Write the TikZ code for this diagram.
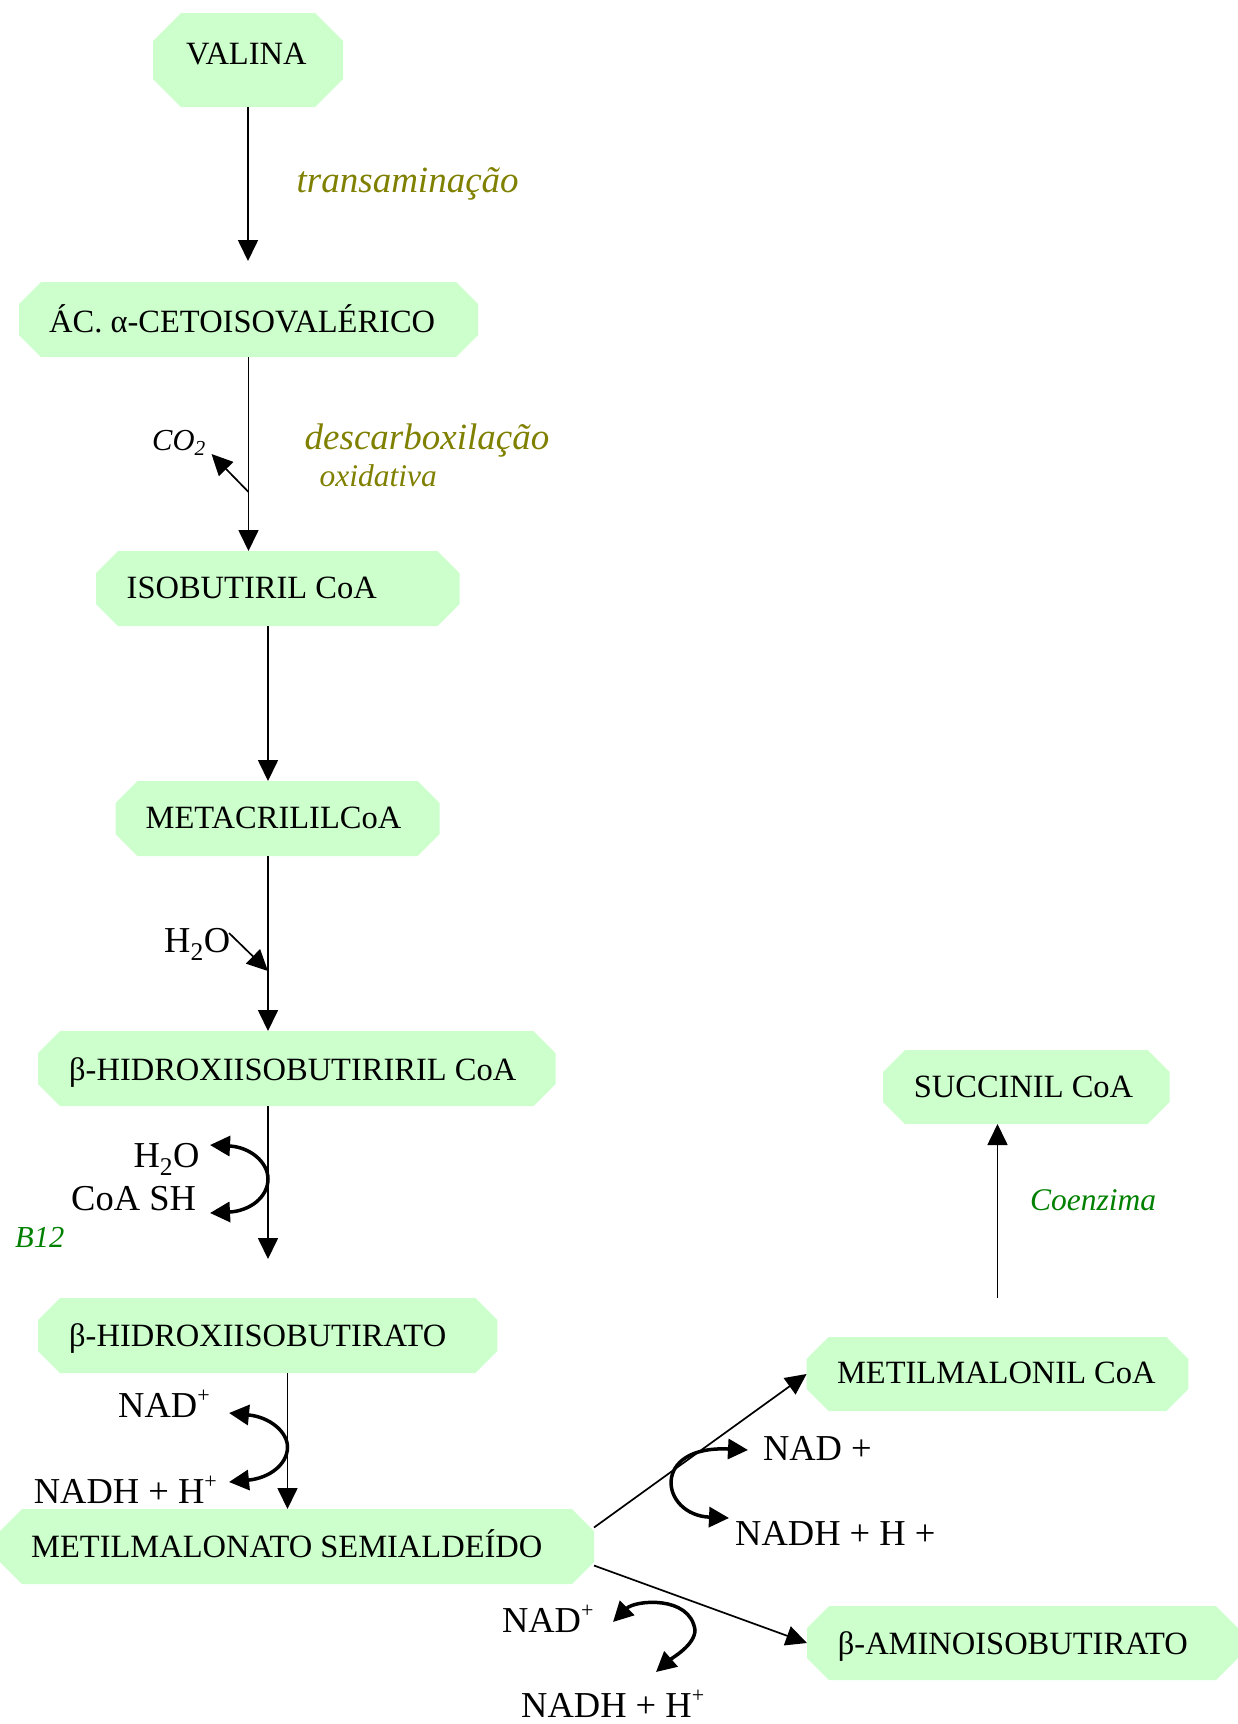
\documentclass[tikz,border=0pt]{standalone}
\usepackage{fontspec}
\setmainfont{Liberation Serif}
\usetikzlibrary{arrows.meta,calc}
\definecolor{boxgreen}{RGB}{204,255,204}
\definecolor{olivetxt}{RGB}{128,128,0}
\definecolor{greentxt}{RGB}{0,128,0}
\newcommand{\plussup}{\raisebox{15pt}{\fontsize{22}{22}\selectfont +}}
\newcommand{\pbox}[9]{%
  \node[boxframe, minimum width=#4pt, minimum height=#5pt] (#1) at (#2,#3) {};
  \fill[boxgreen] ([xshift=#6pt]#1.north west) -- ([xshift=-#6pt]#1.north east)
    -- ([yshift=-#6pt]#1.north east) -- ([yshift=#6pt]#1.south east)
    -- ([xshift=-#6pt]#1.south east) -- ([xshift=#6pt]#1.south west)
    -- ([yshift=#6pt]#1.south west) -- ([yshift=-#6pt]#1.north west) -- cycle;
  \node[nodetext] (#1-t) at (#7,#8) {#9};
}
\begin{document}
\begin{tikzpicture}[x=1pt,y=-1pt,
  boxframe/.style={draw=none, inner sep=0pt, outer sep=0pt, rectangle},
  nodetext/.style={anchor=base west, inner sep=0pt, font=\fontsize{32.5}{39}\selectfont},
  reag/.style={anchor=base west, inner sep=0pt, font=\fontsize{36.5}{44}\selectfont},
  enz/.style={anchor=base west, inner sep=0pt, font=\fontsize{37}{44}\selectfont\itshape, text=olivetxt},
  arr/.style={line width=1.7pt, -{Triangle[width=20pt,length=21pt]}},
  curv/.style={line width=3.5pt, {Triangle[width=20pt,length=20pt]}-{Triangle[width=20pt,length=20pt]}}
]
\useasboundingbox (0,0) rectangle (1238,1724);

% boxes
\pbox{valina}{248}{60}{190}{94}{28}{186}{64}{VALINA}
\pbox{ac}{248.5}{319.5}{459}{75}{22}{49}{332}{ÁC. α-CETOISOVALÉRICO}
\pbox{iso}{277.75}{588.5}{363.5}{75}{22}{126.5}{598}{ISOBUTIRIL CoA}
\pbox{meta}{277.6}{818.5}{324.2}{75}{22}{145.5}{828}{METACRILILCoA}
\pbox{hib}{296.75}{1068.5}{517.5}{75}{22}{69}{1080}{β-HIDROXIISOBUTIRIRIL CoA}
\pbox{hia}{267.7}{1335.5}{459.4}{75}{22}{69}{1346.7}{β-HIDROXIISOBUTIRATO}
\pbox{mms}{297}{1546.5}{594}{75}{22}{31}{1557}{METILMALONATO SEMIALDEÍDO}
\pbox{succ}{1026.25}{1087}{286.5}{74}{22}{913.6}{1097}{SUCCINIL CoA}
\pbox{mmc}{997.5}{1374}{381.8}{74}{22}{836.8}{1383}{METILMALONIL CoA}
\pbox{bam}{1022.5}{1643}{431}{74}{22}{837.7}{1654}{β-AMINOISOBUTIRATO}

% labels
\node[enz] (trans) at (296.5,192) {transaminação};
\node[enz] (desc) at (304.5,449) {descarboxilação};
\node[enz, font=\fontsize{31.5}{38}\selectfont\itshape] (oxid) at (319.5,486) {oxidativa};
\node[anchor=base west, inner sep=0pt, font=\fontsize{30.5}{36}\selectfont\itshape] (co2) at (152,450) {CO\textsubscript{2}};
\node[reag] (h2oa) at (164,952) {H\textsubscript{2}O};
\node[reag, anchor=base east] (h2ob) at (199.7,1167) {H\textsubscript{2}O};
\node[reag] (coash) at (71,1210) {CoA SH};
\node[anchor=base west, inner sep=0pt, font=\fontsize{30.5}{36}\selectfont\itshape, text=greentxt] (b12) at (15,1247) {B12};
\node[reag] (nad1) at (118,1417) {NAD\plussup};
\node[reag] (nadh1) at (33.6,1503) {NADH + H\plussup};
\node[anchor=base west, inner sep=0pt, font=\fontsize{31.5}{38}\selectfont\itshape, text=greentxt] (coenz) at (1030,1210) {Coenzima};
\node[reag] (nad2) at (762.8,1460) {NAD +};
\node[reag] (nadh2) at (735,1545) {NADH + H +};
\node[reag] (nad3) at (501.8,1632) {NAD\plussup};
\node[reag] (nadh3) at (521,1717) {NADH + H\plussup};

% free ends
\coordinate (t1) at (248,261);
\coordinate (co2b) at (248.5,492);
\coordinate (co2t) at (211.5,454);
\coordinate (h2os) at (229,933);
\coordinate (h2ot) at (268,971);
\coordinate (t5) at (268,1259);
\coordinate (s0) at (997.5,1298);
\coordinate (c1a) at (210,1145);
\coordinate (c1b) at (210,1213);
\coordinate (c2a) at (229,1413);
\coordinate (c2b) at (229,1482);
\coordinate (c3a) at (748,1450);
\coordinate (c3b) at (729,1518);
\coordinate (c4a) at (613,1622);
\coordinate (c4b) at (656,1672);

% main connectors
\draw[arr] (valina.south) -- (t1);
\draw[arr] (ac.south) -- (ac.south |- iso.north);
\draw[arr] (co2b) -- (co2t);
\draw[arr] ([xshift=-9.75pt]iso.south) -- ([xshift=-9.75pt]iso.south |- meta.north);
\draw[arr] ([xshift=-9.6pt]meta.south) -- ([xshift=-9.6pt]meta.south |- hib.north);
\draw[arr] (h2os) -- (h2ot);
\draw[arr] ([xshift=-28.75pt]hib.south) -- (t5);
\draw[arr] ([xshift=19.8pt]hia.south) -- ([xshift=19.8pt]hia.south |- mms.north);
\draw[arr] ([yshift=19pt]mms.east) -- (mmc.west);
\draw[arr] ([yshift=-19pt]mms.east) -- (bam.west);
\draw[arr] (s0) -- (s0 |- succ.south);

% curved cofactor arrows
\draw[curv] (c1a) .. controls (250,1147) and (268,1162) .. (268,1179) .. controls (268,1197) and (250,1211) .. (c1b);
\draw[curv] (c2a) .. controls (270,1417) and (287.5,1432) .. (287.5,1447) .. controls (287.5,1464) and (270,1478) .. (c2b);
\draw[curv] (c3a) .. controls (650,1445) and (660,1515) .. (c3b);
\draw[curv] (c4a) .. controls (635,1600) and (690,1595) .. (695,1630) .. controls (695,1645) and (672,1658) .. (c4b);
\end{tikzpicture}
\end{document}
